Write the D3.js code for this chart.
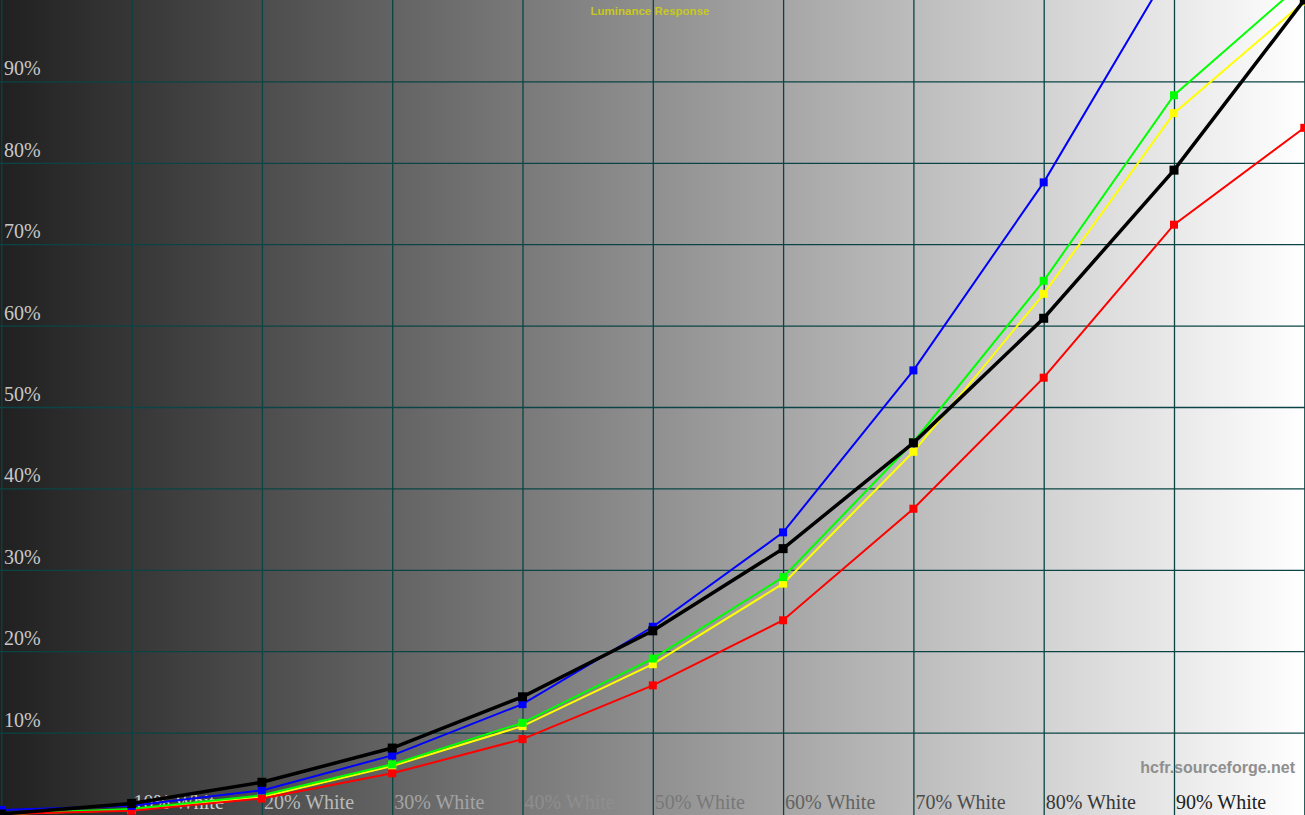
<!DOCTYPE html>
<html>
<head>
<meta charset="utf-8">
<script src="https://cdn.jsdelivr.net/npm/d3@7"></script>
<style>
body { margin: 0; overflow: hidden; background: #222; }
svg { display: block; }
</style>
</head>
<body>
<script>
const w = 1305;
const h = 815;

// stimulus levels (% white)
const levels = [0, 10, 20, 30, 40, 50, 60, 70, 80, 90, 100];
const yTicks = [10, 20, 30, 40, 50, 60, 70, 80, 90];
const xLabels = ["", "10% White", "20% White", "30% White", "40% White", "50% White",
                 "60% White", "70% White", "80% White", "90% White", ""];

// measured luminance, percent of white
const redY    = [0, 0.4, 1.9, 5.0, 9.2, 15.8, 23.8, 37.5, 53.6, 72.4, 84.3];
const greenY  = [0, 0.6, 2.3, 6.1, 11.2, 19.1, 29.1, 45.7, 65.5, 88.3, 102.3];
const yellowY = [0, 0.5, 2.1, 5.9, 10.8, 18.4, 28.3, 44.5, 63.9, 86.1, 99.8];
const blueY   = [0.5, 1.0, 2.9, 7.2, 13.5, 23.0, 34.6, 54.5, 77.6, 104.6, 130];
const refY    = [0, 1.3, 3.9, 8.1, 14.4, 22.5, 32.6, 45.6, 60.9, 79.1, 100];

// drawing order follows the reference (yellow under green under red ...)
const series = [
  {name: "yellow", values: yellowY, color: "#ffff00", width: 2, mark: 8},
  {name: "green", values: greenY, color: "#00ff00", width: 2, mark: 8},
  {name: "red", values: redY, color: "#ff0000", width: 2, mark: 8},
  {name: "blue", values: blueY, color: "#0000ff", width: 2, mark: 8},
  {name: "reference", values: refY, color: "#000000", width: 3.5, mark: 9}
];

const svg = d3.select("body")
  .append("svg")
  .attr("width", w)
  .attr("height", h);

const xScale = d3.scaleLinear().domain([0, 100]).range([1.3, 1304.3]);
const yScale = d3.scaleLinear().domain([0, 100]).range([814, 0]);

// grey ramp background
const grad = svg.append("defs").append("linearGradient")
  .attr("id", "ramp")
  .attr("x1", "0").attr("x2", "1").attr("y1", "0").attr("y2", "0");
grad.append("stop").attr("offset", "0").attr("stop-color", "#202020");
grad.append("stop").attr("offset", "1").attr("stop-color", "#ffffff");

svg.append("rect")
  .attr("width", w)
  .attr("height", h)
  .attr("fill", "url(#ramp)");

// grid
svg.append("g")
  .attr("class", "xgrid")
  .attr("transform", "translate(0," + h + ")")
  .call(d3.axisBottom(xScale).tickValues(levels).tickSize(-h).tickFormat(""))
  .call(g => g.select(".domain").remove());

svg.append("g")
  .attr("class", "ygrid")
  .call(d3.axisLeft(yScale).tickValues(yTicks).tickSize(-w).tickFormat(""))
  .call(g => g.select(".domain").remove());

svg.selectAll(".xgrid line, .ygrid line")
  .attr("stroke", "#0a4444")
  .attr("stroke-width", 1.3);

// y labels
svg.selectAll(".ylab")
  .data(yTicks)
  .enter()
  .append("text")
  .attr("class", "ylab")
  .attr("x", 4)
  .attr("y", d => yScale(d) - 6)
  .text(d => d + "%")
  .attr("fill", "#c8c8c8")
  .style("font-family", "'Liberation Serif', 'DejaVu Serif', serif")
  .style("font-size", "20px");

// x labels, colour shifts from light to dark along the ramp
const labColor = d3.interpolateRgb("#e6e6e6", "#0a0a0a");
svg.selectAll(".xlab")
  .data(levels.filter((d, i) => xLabels[i] !== ""))
  .enter()
  .append("text")
  .attr("class", "xlab")
  .attr("x", d => xScale(d) + 2)
  .attr("y", 809)
  .text(d => xLabels[levels.indexOf(d)])
  .attr("fill", d => labColor(d / 100))
  .style("font-family", "'Liberation Serif', 'DejaVu Serif', serif")
  .style("font-size", "20px");

svg.append("text")
  .attr("x", 650)
  .attr("y", 15)
  .attr("text-anchor", "middle")
  .text("Luminance Response")
  .attr("fill", "#c8c81e")
  .style("font-family", "'Liberation Sans', Arial, sans-serif")
  .style("font-weight", "bold")
  .style("font-size", "11.5px");

svg.append("text")
  .attr("x", 1295)
  .attr("y", 773)
  .attr("text-anchor", "end")
  .text("hcfr.sourceforge.net")
  .attr("fill", "#8f8f8f")
  .style("font-family", "'Liberation Sans', Arial, sans-serif")
  .style("font-weight", "bold")
  .style("font-size", "16px");

// curves
const line = d3.line()
  .x((d, i) => xScale(levels[i]))
  .y(d => yScale(d));

series.forEach(s => {
  const g = svg.append("g").attr("class", "series-" + s.name);
  g.append("path")
    .datum(s.values)
    .attr("d", line)
    .attr("fill", "none")
    .attr("stroke", s.color)
    .attr("stroke-width", s.width);
  g.selectAll("rect")
    .data(s.values)
    .enter()
    .append("rect")
    .attr("x", (d, i) => xScale(levels[i]) - s.mark / 2)
    .attr("y", d => yScale(d) - s.mark / 2)
    .attr("width", s.mark)
    .attr("height", s.mark)
    .attr("fill", s.color);
});
</script>
</body>
</html>
